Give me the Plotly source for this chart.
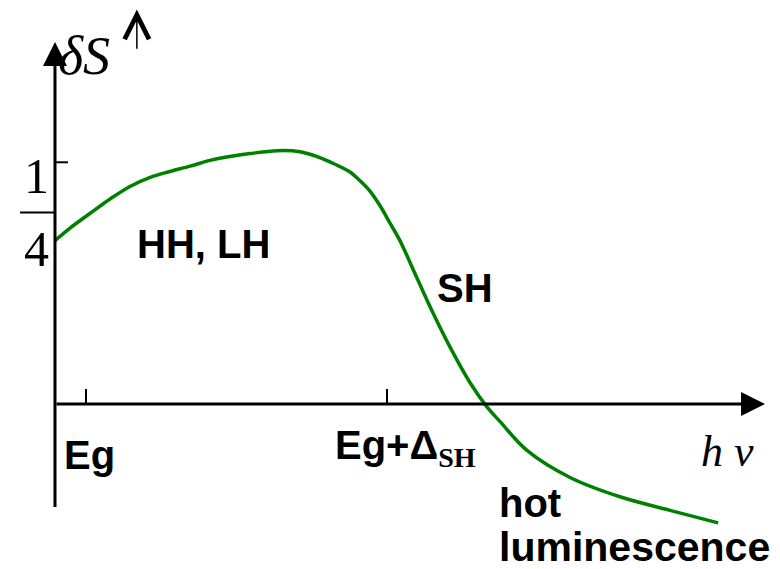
import plotly.graph_objects as go

# ---- data (x: photon energy in units where Eg=1, Eg+Δ_SH=2; y: δS) ----
curve_x = [0.897, 0.947, 1.013, 1.080, 1.146, 1.213, 1.279, 1.346, 1.412, 1.478,
           1.545, 1.635, 1.711, 1.767, 1.827, 1.877, 1.910, 1.944, 1.977, 2.010,
           2.043, 2.100, 2.153, 2.209, 2.276, 2.332, 2.375, 2.465, 2.608, 2.774,
           2.940, 3.100]
curve_y = [0.169, 0.182, 0.197, 0.212, 0.225, 0.2345, 0.2405, 0.246, 0.252, 0.256,
           0.259, 0.262, 0.261, 0.256, 0.248, 0.240, 0.231, 0.220, 0.205, 0.187,
           0.169, 0.130, 0.094, 0.059, 0.022, -0.003, -0.018, -0.048, -0.076, -0.096,
           -0.110, -0.123]

x_tick_vals = [1.0, 2.0]
y_tick_vals = [0.25]
y_tick_num = ["1"]
y_tick_den = ["4"]

axis_x0 = 0.897   # position of the vertical axis
axis_x1 = 3.256   # x-axis arrow tip
axis_ybot = -0.108
axis_ytop = 0.3745

region_labels = ["HH, LH", "SH"]
region_x = [1.392, 2.259]
region_y = [0.1655, 0.120]

GREEN = "#008000"
SANS = "Liberation Sans, Arial, sans-serif"
SERIF = "Liberation Serif, Times New Roman, serif"

fig = go.Figure()
fig.add_trace(go.Scatter(x=curve_x, y=curve_y, mode="lines",
                         line=dict(color=GREEN, width=3.5, shape="spline", smoothing=1.0),
                         hoverinfo="skip", showlegend=False))

shapes = []
ann = []

# axes with arrows
ann.append(dict(x=axis_x1, y=0, ax=axis_x0, ay=0, xref="x", yref="y", axref="x", ayref="y",
                text="", showarrow=True, arrowhead=2, arrowsize=1.6, arrowwidth=3,
                arrowcolor="black", startstandoff=0, standoff=0))
ann.append(dict(x=axis_x0, y=axis_ytop, ax=axis_x0, ay=axis_ybot, xref="x", yref="y",
                axref="x", ayref="y", text="", showarrow=True, arrowhead=2, arrowsize=1.6,
                arrowwidth=3, arrowcolor="black", startstandoff=0, standoff=0))
# small thin arrow next to δS
ann.append(dict(x=1.169, y=0.408, ax=1.169, ay=0.366, xref="x", yref="y", axref="x", ayref="y",
                text="", showarrow=True, arrowhead=5, arrowsize=3.2, arrowwidth=1.5,
                arrowcolor="black", startstandoff=0, standoff=0))

# x ticks
for xv in x_tick_vals:
    shapes.append(dict(type="line", xref="x", yref="y", x0=xv, x1=xv, y0=0, y1=0.0155,
                       line=dict(color="black", width=2)))
# y tick
for yv in y_tick_vals:
    shapes.append(dict(type="line", xref="x", yref="y", x0=axis_x0, x1=0.940, y0=yv, y1=yv,
                       line=dict(color="black", width=2)))
# fraction bar for 1/4
shapes.append(dict(type="line", xref="x", yref="y", x0=0.781, x1=axis_x0, y0=0.198, y1=0.198,
                   line=dict(color="black", width=2)))

ann.append(dict(x=0.836, y=0.236, text=y_tick_num[0], showarrow=False,
                font=dict(family=SERIF, size=50, color="black")))
ann.append(dict(x=0.836, y=0.160, text=y_tick_den[0], showarrow=False,
                font=dict(family=SERIF, size=50, color="black")))

# axis titles
ann.append(dict(x=0.993, y=0.360, text="<i>δS</i>", showarrow=False,
                font=dict(family=SERIF, size=54, color="black")))
ann.append(dict(x=3.130, y=-0.049, text="<i>h ν</i>", showarrow=False,
                font=dict(family=SERIF, size=44, color="black")))

# tick labels
ann.append(dict(x=0.920, y=-0.053, text="<b>Eg</b>", showarrow=False, xanchor="left",
                font=dict(family=SANS, size=40, color="black")))
ann.append(dict(x=1.821, y=-0.046,
                text="<b>Eg+Δ<sub><span style='font-family:Liberation Serif'>SH</span></sub></b>",
                showarrow=False, xanchor="left",
                font=dict(family=SANS, size=40, color="black")))

# region labels
for t, xv, yv in zip(region_labels, region_x, region_y):
    ann.append(dict(x=xv, y=yv, text="<b>" + t + "</b>", showarrow=False,
                    font=dict(family=SANS, size=40, color="black")))
ann.append(dict(x=2.365, y=-0.102, text="<b>hot</b>", showarrow=False, xanchor="left",
                font=dict(family=SANS, size=40, color="black")))
ann.append(dict(x=2.365, y=-0.148, text="<b>luminescence</b>", showarrow=False, xanchor="left",
                font=dict(family=SANS, size=41, color="black")))

# page body has an 8px margin: figure is 8px smaller and ranges start 8px in
fig.update_layout(
    width=772, height=561, autosize=False,
    margin=dict(l=0, r=0, t=0, b=0),
    paper_bgcolor="white", plot_bgcolor="white",
    xaxis=dict(visible=False, range=[0.7409, 3.3056], fixedrange=True),
    yaxis=dict(visible=False, range=[-0.1707, 0.4096], fixedrange=True),
    shapes=shapes, annotations=ann, showlegend=False,
)

fig.write_html("out.html")
